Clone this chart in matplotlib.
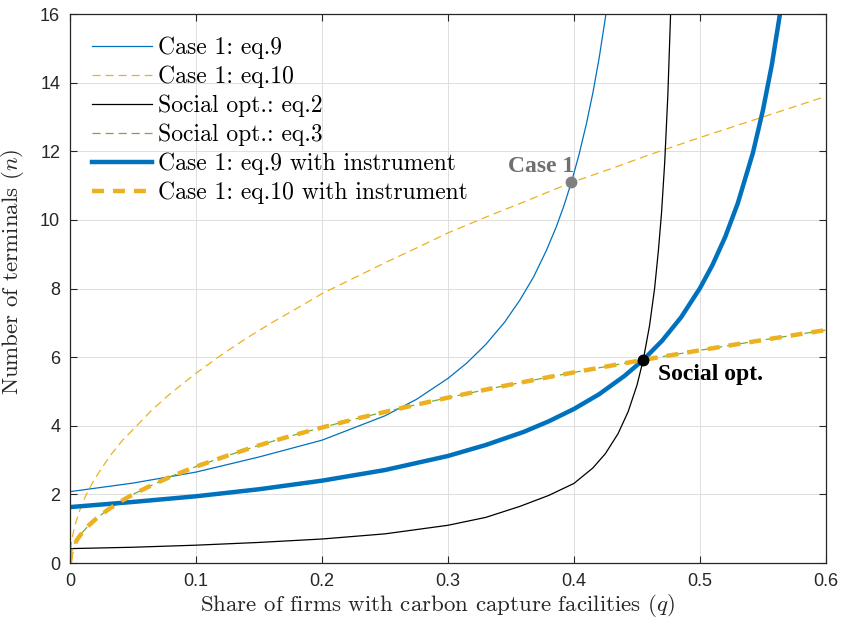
import numpy as np
import matplotlib
matplotlib.use("Agg")
import matplotlib.pyplot as plt

# Case 1: eq.9 (thin blue)
q_eq9 = [0, 0.05, 0.1, 0.15, 0.2, 0.25, 0.275, 0.3, 0.315, 0.33, 0.345, 0.357, 0.368,
         0.378, 0.386, 0.392, 0.398, 0.404, 0.41, 0.415, 0.42, 0.4254]
n_eq9 = [2.08, 2.33, 2.65, 3.09, 3.58, 4.29, 4.77, 5.38, 5.83, 6.37, 7.02, 7.66, 8.34,
         9.1, 9.8, 10.41, 11.1, 11.9, 12.82, 13.7, 14.72, 16.0]

# Case 1: eq.10 (thin orange dashed)
q_eq10 = [0, 0.0005, 0.001, 0.002, 0.004, 0.007, 0.01, 0.013, 0.018, 0.025, 0.033, 0.042,
          0.053, 0.065, 0.08, 0.1, 0.12, 0.14, 0.16, 0.18, 0.2, 0.225, 0.25, 0.275, 0.3,
          0.33, 0.36, 0.398, 0.43, 0.46, 0.5, 0.55, 0.6]
n_eq10 = [0, 0.39, 0.55, 0.78, 1.1, 1.46, 1.75, 2.0, 2.35, 2.76, 3.18, 3.59,
          4.0, 4.46, 4.95, 5.53, 6.06, 6.55, 7.0, 7.42, 7.85, 8.3, 8.75, 9.18, 9.62,
          10.08, 10.52, 11.09, 11.5, 11.9, 12.4, 13.0, 13.6]

# Social opt.: eq.2 (black)
q_eq2 = [0, 0.05, 0.1, 0.15, 0.2, 0.25, 0.3, 0.33, 0.357, 0.38, 0.4, 0.415, 0.425, 0.435,
         0.443, 0.45, 0.455, 0.46, 0.464, 0.467, 0.4695, 0.472, 0.4745, 0.4767]
n_eq2 = [0.42, 0.46, 0.52, 0.6, 0.7, 0.85, 1.1, 1.33, 1.65, 1.97, 2.32, 2.77, 3.19, 3.77,
         4.41, 5.18, 5.92, 6.92, 8.0, 9.1, 10.2, 11.66, 13.62, 16.0]

# Social opt.: eq.3 (thin green dashed)
q_eq3 = [0, 0.001, 0.003, 0.006, 0.01, 0.015, 0.022, 0.03, 0.04, 0.05, 0.065, 0.08, 0.1,
         0.125, 0.15, 0.175, 0.2, 0.23, 0.26, 0.3, 0.34, 0.38, 0.42, 0.455, 0.5, 0.55, 0.6]
n_eq3 = [0.2, 0.32, 0.52, 0.71, 0.9, 1.1, 1.33, 1.55, 1.79, 2.0, 2.27, 2.52, 2.81,
         3.13, 3.43, 3.7, 3.95, 4.23, 4.49, 4.82, 5.13, 5.42, 5.69, 5.92, 6.2, 6.5, 6.79]

# Case 1: eq.9 with instrument (thick blue)
q_eq9i = [0, 0.05, 0.1, 0.15, 0.2, 0.25, 0.3, 0.33, 0.36, 0.38, 0.4, 0.42, 0.44, 0.455,
          0.47, 0.485, 0.5, 0.51, 0.52, 0.53, 0.542, 0.55, 0.557, 0.5635]
n_eq9i = [1.63, 1.78, 1.945, 2.15, 2.4, 2.71, 3.12, 3.44, 3.82, 4.13, 4.49, 4.92, 5.45, 5.92,
          6.48, 7.16, 8.01, 8.69, 9.5, 10.48, 11.95, 13.2, 14.51, 16.0]

# Case 1: eq.10 with instrument (thick orange dashed)
q_eq10i = [0, 0.001, 0.003, 0.006, 0.01, 0.015, 0.022, 0.03, 0.04, 0.05, 0.065, 0.08, 0.1,
           0.125, 0.15, 0.175, 0.2, 0.23, 0.26, 0.3, 0.34, 0.38, 0.42, 0.455, 0.5, 0.55, 0.6]
n_eq10i = [0, 0.29, 0.5, 0.7, 0.9, 1.1, 1.33, 1.55, 1.79, 2.0, 2.27, 2.52, 2.81,
           3.13, 3.43, 3.7, 3.95, 4.23, 4.49, 4.82, 5.13, 5.42, 5.69, 5.92, 6.2, 6.5, 6.79]

case1_pt = (0.398, 11.09)
social_pt = (0.455, 5.92)

x_ticks = [0, 0.1, 0.2, 0.3, 0.4, 0.5, 0.6]
y_ticks = [0, 2, 4, 6, 8, 10, 12, 14, 16]

blue = "#0072BD"
yellow = "#EDB120"
green = "#77AC30"
axcol = "#262626"

plt.rcParams["mathtext.fontset"] = "cm"
plt.rcParams["lines.scale_dashes"] = False
serif = ["cmr10", "DejaVu Serif"]

fig = plt.figure(figsize=(8.41, 6.26), dpi=100)
ax = fig.add_axes([0.0832, 0.1006, 0.8989, 0.877])

ax.plot(q_eq9, n_eq9, color=blue, lw=0.9, label="Case 1: eq.9")
ax.plot(q_eq10, n_eq10, color=yellow, lw=0.9, dashes=(5.8, 3.6), label="Case 1: eq.10")
ax.plot(q_eq2, n_eq2, color="black", lw=0.9, label="Social opt.: eq.2")
ax.plot(q_eq3, n_eq3, color=green, lw=0.9, dashes=(5.8, 3.6), label="Social opt.: eq.3")
ax.plot(q_eq9i, n_eq9i, color=blue, lw=3.2, label="Case 1: eq.9 with instrument")
ax.plot(q_eq10i, n_eq10i, color=yellow, lw=3.2, dashes=(8.6, 6.5),
        label="Case 1: eq.10 with instrument")

ax.plot(*case1_pt, "o", color="#808080", ms=7.5, zorder=5)
ax.plot(*social_pt, "o", color="black", ms=7.5, zorder=5)
ax.text(0.4, 11.4, "Case 1", ha="right", va="baseline", fontsize=17,
        fontweight="bold", family="Liberation Serif", color="#707070")
ax.text(0.467, 5.33, "Social opt.", ha="left", va="baseline", fontsize=17,
        fontweight="bold", family="Liberation Serif", color="black")

ax.set_xlim(0, 0.6)
ax.set_ylim(0, 16)
ax.set_xticks(x_ticks)
ax.set_yticks(y_ticks)
ax.set_xticklabels([f"{t:g}" for t in x_ticks], family="Liberation Sans", fontsize=13)
ax.set_yticklabels([f"{t:g}" for t in y_ticks], family="Liberation Sans", fontsize=13)
ax.tick_params(direction="in", top=True, right=True, length=5, width=0.8,
               colors=axcol, pad=7)
for s in ax.spines.values():
    s.set_color(axcol)
    s.set_linewidth(0.9)
ax.grid(True, color="#dedede", lw=0.7)
ax.set_axisbelow(True)

ax.set_xlabel("Share of firms with carbon capture facilities ($q$)", family=serif,
              fontsize=16.5, color=axcol, labelpad=2)
ax.set_ylabel("Number of terminals ($n$)", family=serif, fontsize=16.5, color=axcol,
              labelpad=6)
ax.xaxis.set_label_coords(0.487, -0.052)
ax.yaxis.set_label_coords(-0.058, 0.53)

ax.legend(loc="upper left", bbox_to_anchor=(0.001, 0.997), frameon=False,
          prop={"family": serif, "size": 17}, handlelength=2.55, handletextpad=0.25,
          labelspacing=0.27, borderaxespad=0.5)

fig.savefig("out.png", dpi=100)
